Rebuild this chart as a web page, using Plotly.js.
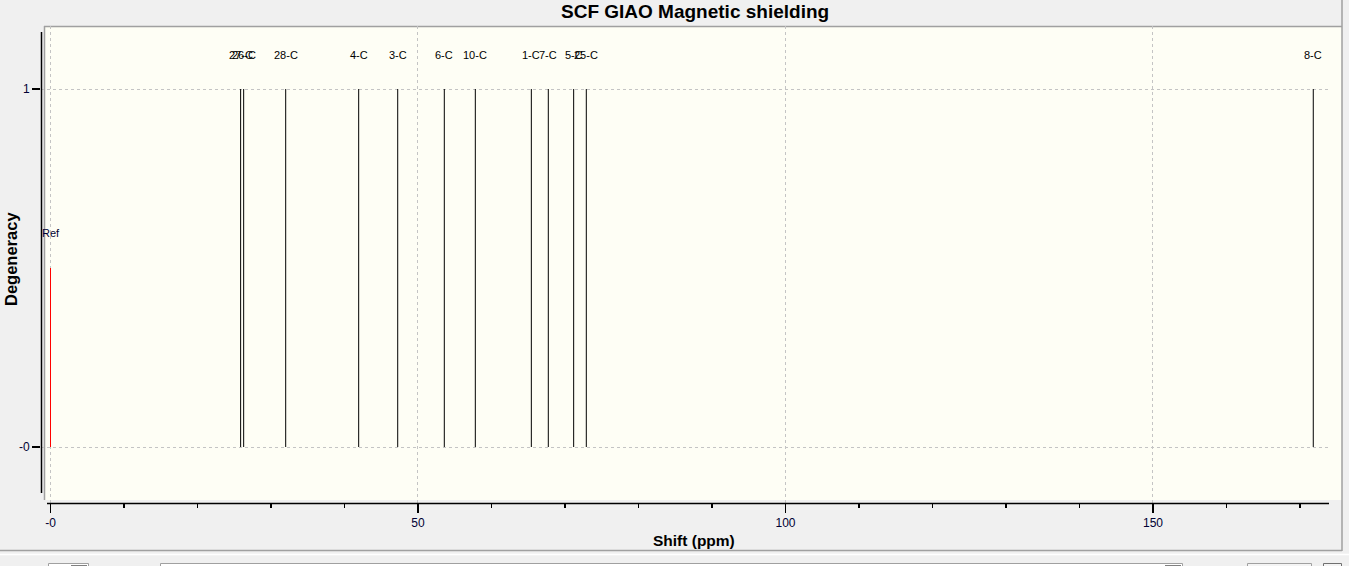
<!DOCTYPE html>
<html><head><meta charset="utf-8">
<script src="https://cdn.plot.ly/plotly-3.0.1.min.js"></script>
<style>html,body{margin:0;padding:0;background:#f0f0f0;overflow:hidden}#chart{width:1349px;height:566px;}</style>
</head><body><div id="chart"></div>
<script>
// ---- data ----
const shifts = [25.87, 26.28, 32.0, 41.93, 47.24, 53.58, 57.80, 65.42, 67.73, 71.18, 72.90, 171.81];
const labels = ['27-C', '26-C', '28-C', '4-C', '3-C', '6-C', '10-C', '1-C', '7-C', '5-C', '25-C', '8-C'];
const degeneracy = [1, 1, 1, 1, 1, 1, 1, 1, 1, 1, 1, 1];
const refShift = [0];
const refValue = [0.5];
const refLabel = ['Ref'];
const xTickVals = [0, 50, 100, 150];
const xTickText = ['-0', '50', '100', '150'];
const yTickVals = [0, 1];
const yTickText = ['-0', '1'];

// ---- build traces ----
const lx = [], ly = [];
shifts.forEach((s, i) => { lx.push(s, s, null); ly.push(0, degeneracy[i], null); });
const rx = [], ry = [];
refShift.forEach((s, i) => { rx.push(s, s, null); ry.push(0, refValue[i], null); });

const traces = [
  {x: lx, y: ly, type: 'scatter', mode: 'lines', line: {color: '#000000', width: 1}, hoverinfo: 'skip', showlegend: false},
  {x: rx, y: ry, type: 'scatter', mode: 'lines', line: {color: '#ff0000', width: 1}, hoverinfo: 'skip', showlegend: false}
];

// ---- frame geometry helpers (pixel -> paper) ----
const L = 41, T = 26, W = 1288, H = 477;
const PX = p => (p - L) / W;
const PY = p => (T + H - p) / H;
const gray = '#a0a0a0';

const shapes = [
  // plot panel background
  {type: 'rect', xref: 'paper', yref: 'paper', x0: PX(44), x1: PX(1342), y0: PY(500), y1: PY(26), fillcolor: '#fefef5', line: {width: 0}, layer: 'below'},
  {type: 'line', xref: 'paper', yref: 'paper', x0: PX(44), x1: PX(1342), y0: PY(26.5), y1: PY(26.5), line: {color: gray, width: 1.5}, layer: 'below'},
  {type: 'line', xref: 'paper', yref: 'paper', x0: PX(44.5), x1: PX(44.5), y0: PY(500), y1: PY(26), line: {color: gray, width: 1.5}, layer: 'below'},
  // outer frame
  {type: 'line', xref: 'paper', yref: 'paper', x0: PX(1342), x1: PX(1342), y0: PY(551), y1: PY(0), line: {color: gray, width: 1.5}},
  {type: 'line', xref: 'paper', yref: 'paper', x0: PX(0), x1: PX(1342), y0: PY(550.5), y1: PY(550.5), line: {color: gray, width: 1.5}},
  {type: 'line', xref: 'paper', yref: 'paper', x0: PX(0), x1: PX(1349), y0: PY(554.5), y1: PY(554.5), line: {color: '#ffffff', width: 1.5}},
  // axis lines
  {type: 'line', xref: 'paper', yref: 'paper', x0: PX(41.5), x1: PX(41.5), y0: PY(493), y1: PY(32), line: {color: '#000000', width: 1.5}},
  {type: 'line', xref: 'paper', yref: 'paper', x0: PX(47), x1: PX(1329), y0: PY(503.5), y1: PY(503.5), line: {color: '#000000', width: 1.5}},
  // bottom toolbar widgets
  {type: 'rect', xref: 'paper', yref: 'paper', x0: PX(48.5), x1: PX(88.5), y0: PY(580), y1: PY(563.5), fillcolor: '#ffffff', line: {color: gray, width: 1}},
  {type: 'rect', xref: 'paper', yref: 'paper', x0: PX(71), x1: PX(87), y0: PY(580), y1: PY(565), fillcolor: '#808080', line: {width: 0}},
  {type: 'rect', xref: 'paper', yref: 'paper', x0: PX(160.5), x1: PX(1182.5), y0: PY(580), y1: PY(563.5), fillcolor: '#ffffff', line: {color: gray, width: 1}},
  {type: 'rect', xref: 'paper', yref: 'paper', x0: PX(1165), x1: PX(1181), y0: PY(580), y1: PY(565), fillcolor: '#808080', line: {width: 0}},
  {type: 'rect', xref: 'paper', yref: 'paper', x0: PX(1247.5), x1: PX(1311.5), y0: PY(580), y1: PY(563.5), fillcolor: '#f4f4f4', line: {color: gray, width: 1}},
  {type: 'rect', xref: 'paper', yref: 'paper', x0: PX(1323.5), x1: PX(1341.5), y0: PY(580), y1: PY(563.5), fillcolor: '#f4f4f4', line: {color: '#707070', width: 1}}
];

const annotations = [];
shifts.forEach((s, i) => annotations.push({
  x: s, y: 1.095, xref: 'x', yref: 'y', text: labels[i], showarrow: false,
  xanchor: 'center', yanchor: 'middle', font: {family: 'Liberation Sans, Arial, sans-serif', size: 11, color: '#000000'}
}));
refShift.forEach((s, i) => annotations.push({
  x: s, y: 0.598, xref: 'x', yref: 'y', text: refLabel[i], showarrow: false,
  xanchor: 'center', yanchor: 'middle', font: {family: 'Liberation Sans, Arial, sans-serif', size: 11, color: '#000033'}
}));
// axis titles & chart title
annotations.push({x: PX(695), y: PY(11), xref: 'paper', yref: 'paper', text: '<b>SCF GIAO Magnetic shielding</b>', showarrow: false,
  xanchor: 'center', yanchor: 'middle', font: {family: 'Liberation Sans, Arial, sans-serif', size: 19, color: '#000000'}});
annotations.push({x: PX(694), y: PY(540), xref: 'paper', yref: 'paper', text: '<b>Shift (ppm)</b>', showarrow: false,
  xanchor: 'center', yanchor: 'middle', font: {family: 'Liberation Sans, Arial, sans-serif', size: 15.5, color: '#000000'}});
annotations.push({x: PX(11), y: PY(259), xref: 'paper', yref: 'paper', text: '<b>Degeneracy</b>', showarrow: false, textangle: -90,
  xanchor: 'center', yanchor: 'middle', font: {family: 'Liberation Sans, Arial, sans-serif', size: 16.5, color: '#000000'}});

const layout = {
  width: 1349, height: 566,
  margin: {l: L, r: 1349 - L - W, t: T, b: 566 - T - H, pad: 0},
  paper_bgcolor: '#f0f0f0', plot_bgcolor: 'rgba(0,0,0,0)',
  showlegend: false,
  xaxis: {
    range: [-1.293, 173.95], tickmode: 'array', tickvals: xTickVals, ticktext: xTickText,
    ticks: 'outside', ticklen: 9, tickwidth: 1.5, tickcolor: '#000000',
    minor: {dtick: 10, tick0: 0, ticks: 'outside', ticklen: 4, tickwidth: 1.5, tickcolor: '#000000', showgrid: false},
    showgrid: true, gridcolor: '#c4c4c4', griddash: '3px,3px', gridwidth: 1,
    zeroline: false, showline: false,
    tickfont: {family: 'Liberation Sans, Arial, sans-serif', size: 12, color: '#000033'}
  },
  yaxis: {
    range: [-0.1564, 1.176], tickmode: 'array', tickvals: yTickVals, ticktext: yTickText,
    ticks: 'outside', ticklen: 8, tickwidth: 1.5, tickcolor: '#000000',
    showgrid: true, gridcolor: '#c4c4c4', griddash: '3px,3px', gridwidth: 1,
    zeroline: false, showline: false,
    tickfont: {family: 'Liberation Sans, Arial, sans-serif', size: 12, color: '#000033'}
  },
  shapes: shapes,
  annotations: annotations
};

Plotly.newPlot('chart', traces, layout, {staticPlot: true, displayModeBar: false});
</script>
</body></html>
